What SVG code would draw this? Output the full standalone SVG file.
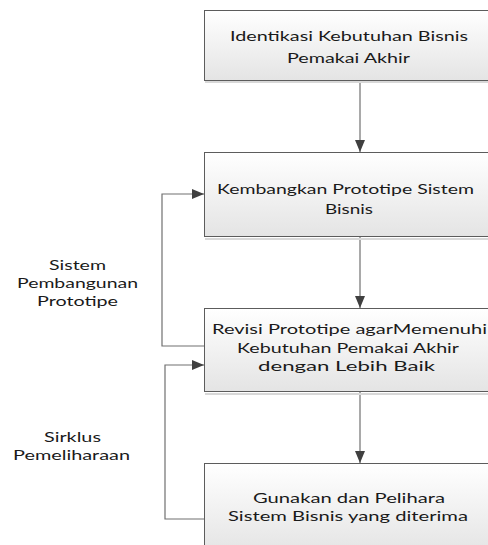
<svg xmlns="http://www.w3.org/2000/svg" width="488" height="545" viewBox="0 0 488 545">
<defs>
<linearGradient id="boxgrad" x1="0" y1="0" x2="0" y2="1">
<stop offset="0" stop-color="#ffffff"/>
<stop offset="1" stop-color="#e4e4e4"/>
</linearGradient>
<marker id="arrow" viewBox="0 0 12 10" refX="12" refY="5" markerWidth="12" markerHeight="10" markerUnits="userSpaceOnUse" orient="auto">
<path d="M0,0 L12,5 L0,10 Z" fill="#404040"/>
</marker>
<style>
.box{fill:url(#boxgrad);stroke:#5c5c5c;stroke-width:1}
.shadow{fill:none;stroke:#d8d8d8;stroke-width:2}
.t{font-family:Lato,"Open Sans","DejaVu Sans",sans-serif;font-size:14px;fill:#1a1a1a}
.c{fill:none;stroke:#707070;stroke-width:1.2}
</style>
</defs>
<rect width="488" height="545" fill="#ffffff"/>
<g id="connectors">
<path class="c" d="M360,80 V152" marker-end="url(#arrow)"/>
<path class="c" d="M360,237 V308" marker-end="url(#arrow)"/>
<path class="c" d="M360,392 V463" marker-end="url(#arrow)"/>
<path class="c" d="M204,346 H162 V194 H204" marker-end="url(#arrow)"/>
<path class="c" d="M204,519 H165 V365 H204" marker-end="url(#arrow)"/>
</g>
<g id="node1">
<line class="shadow" x1="205" y1="82" x2="494" y2="82"/>
<rect class="box" x="204.5" y="10.5" width="290" height="70"/>
<text class="t" x="230" y="41" textLength="238" lengthAdjust="spacingAndGlyphs">Identikasi Kebutuhan Bisnis</text>
<text class="t" x="287" y="63" textLength="123" lengthAdjust="spacingAndGlyphs">Pemakai Akhir</text>
</g>
<g id="node2">
<line class="shadow" x1="205" y1="239" x2="494" y2="239"/>
<rect class="box" x="204.5" y="152.5" width="290" height="84"/>
<text class="t" x="217" y="194" textLength="257" lengthAdjust="spacingAndGlyphs">Kembangkan Prototipe Sistem</text>
<text class="t" x="325" y="214" textLength="48" lengthAdjust="spacingAndGlyphs">Bisnis</text>
</g>
<g id="node3">
<line class="shadow" x1="205" y1="394" x2="494" y2="394"/>
<rect class="box" x="204.5" y="308.5" width="290" height="83"/>
<text class="t" x="212" y="334" textLength="275" lengthAdjust="spacingAndGlyphs">Revisi Prototipe agarMemenuhi</text>
<text class="t" x="237" y="352.5" textLength="222" lengthAdjust="spacingAndGlyphs">Kebutuhan Pemakai Akhir</text>
<text class="t" x="258" y="371" textLength="177" lengthAdjust="spacingAndGlyphs">dengan Lebih Baik</text>
</g>
<g id="node4">
<rect class="box" x="204.5" y="463.5" width="290" height="90"/>
<text class="t" x="253" y="503" textLength="192" lengthAdjust="spacingAndGlyphs">Gunakan dan Pelihara</text>
<text class="t" x="228" y="520.5" textLength="240" lengthAdjust="spacingAndGlyphs">Sistem Bisnis yang diterima</text>
</g>
<g id="label-prototipe">
<text class="t" x="49" y="270" textLength="57" lengthAdjust="spacingAndGlyphs">Sistem</text>
<text class="t" x="17" y="288" textLength="121" lengthAdjust="spacingAndGlyphs">Pembangunan</text>
<text class="t" x="37" y="306" textLength="81" lengthAdjust="spacingAndGlyphs">Prototipe</text>
</g>
<g id="label-pemeliharaan">
<text class="t" x="44" y="442" textLength="57" lengthAdjust="spacingAndGlyphs">Sirklus</text>
<text class="t" x="13" y="460" textLength="117" lengthAdjust="spacingAndGlyphs">Pemeliharaan</text>
</g>
</svg>
